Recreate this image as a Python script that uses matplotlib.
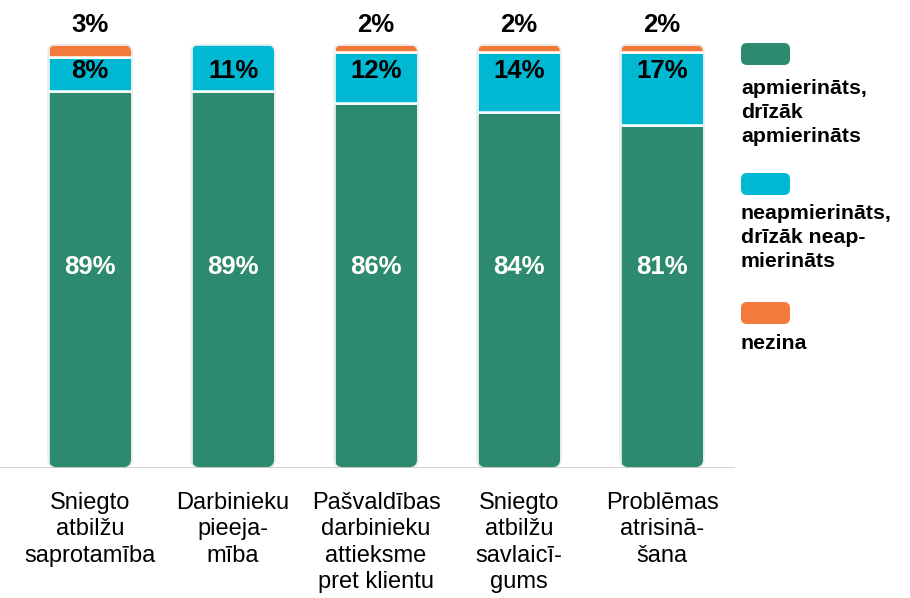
import matplotlib
matplotlib.use("Agg")
import matplotlib.pyplot as plt
from matplotlib.patches import FancyBboxPatch
import numpy as np

plt.rcParams['font.family'] = ['Liberation Sans', 'DejaVu Sans']

categories = ["Sniegto\natbilžu\nsaprotamība", "Darbinieku\npieeja-\nmība",
              "Pašvaldības\ndarbinieku\nattieksme\npret klientu",
              "Sniegto\natbilžu\nsavlaicī-\ngums", "Problēmas\natrisinā-\nšana"]
satisfied = [89, 89, 86, 84, 81]
unsatisfied = [8, 11, 12, 14, 17]
dont_know = [3, 0, 2, 2, 2]

series_names = ["apmierināts,\ndrīzāk\napmierināts",
                "neapmierināts,\ndrīzāk neap-\nmierināts",
                "nezina"]
colors = ["#2E8A6E", "#00B8D2", "#F47A3C"]

W, H = 9.10, 5.98
fig = plt.figure(figsize=(W, H), dpi=100)
# axes: x from 0..735 px, y baseline at 468 px, top (100) at 44 px
ax = fig.add_axes([0, (598 - 468) / 598, 735 / 910, 424 / 598])
px_x, px_y = 143.0, 4.24  # pixels per data unit
ax.set_xlim(-90 / px_x, 645 / px_x)
ax.set_ylim(0, 100)
ax.axis("off")

x = np.arange(len(categories))
bw = 84 / px_x
r_px = 9
for i in range(len(categories)):
    total = satisfied[i] + unsatisfied[i] + dont_know[i]
    clip = FancyBboxPatch((x[i] - bw / 2, 0), bw, total,
                          boxstyle=f"round,pad=0,rounding_size={r_px / px_x}",
                          mutation_aspect=px_x / px_y,
                          transform=ax.transData, facecolor="none",
                          edgecolor="#e6eeee", linewidth=1.2, zorder=3)
    ax.add_patch(clip)
    bottom = 0
    for vals, c in zip([satisfied, unsatisfied, dont_know], colors):
        v = vals[i]
        if v > 0:
            b = ax.bar(x[i], v, bw, bottom=bottom, color=c,
                       edgecolor="white", linewidth=1.8, zorder=2)
            b[0].set_clip_path(clip)
        bottom += v

    ax.text(x[i], 47.4, f"{satisfied[i]}%", ha="center", va="center",
            color="white", fontsize=18.5, fontweight="bold", zorder=4)
    ax.text(x[i], 93.7, f"{unsatisfied[i]}%", ha="center", va="center",
            color="black", fontsize=18.5, fontweight="bold", zorder=4)
    if dont_know[i] > 0:
        ax.text(x[i], 104.5, f"{dont_know[i]}%", ha="center", va="center",
                color="black", fontsize=18.5, fontweight="bold", clip_on=False)
    ax.text(x[i], -5.6, categories[i], ha="center", va="top", fontsize=17,
            linespacing=1.26, clip_on=False)

ax.axhline(0, color="#333333", linewidth=1.0, zorder=5)

# legend drawn in figure pixel coords
def fy(py):
    return 1 - py / 598

def fx(px):
    return px / 910

sw = [(43, 87), (173, 212), (302, 342)]
for (ytop, ytext), name, c in zip(sw, series_names, colors):
    fig.patches.append(FancyBboxPatch((fx(741), fy(ytop + 22)), fx(49), 22 / 598,
                                      boxstyle=f"round,pad=0,rounding_size={6 / 910}",
                                      mutation_aspect=910 / 598,
                                      transform=fig.transFigure, facecolor=c,
                                      edgecolor="none"))
    fig.text(fx(741), fy(ytext - 8), name, ha="left", va="top", fontsize=15.3,
             fontweight="bold", linespacing=1.33)

fig.savefig("out.png", dpi=100)
